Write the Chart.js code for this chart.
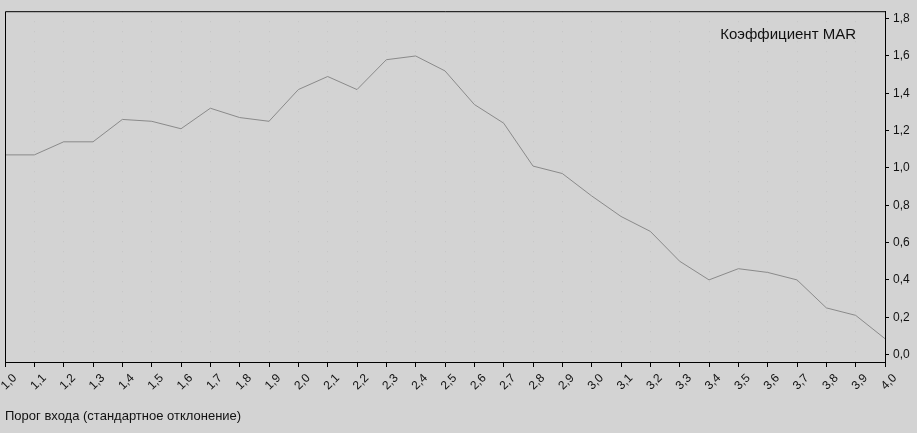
<!DOCTYPE html>
<html lang="ru">
<head>
  <meta charset="UTF-8">
  <title>Коэффициент MAR</title>
  <script src="https://cdn.jsdelivr.net/npm/chart.js"></script>
  <style>
    html, body { margin: 0; padding: 0; background: #d3d3d3; }
    #wrap { width: 917px; height: 433px; }
  </style>
</head>
<body>
  <div id="wrap">
    <canvas id="marChart" width="917" height="433"></canvas>
  </div>

  <script>
    // пороги входа (ось X)
    const thresholds = ['1,0', '1,1', '1,2', '1,3', '1,4', '1,5', '1,6', '1,7', '1,8', '1,9',
                        '2,0', '2,1', '2,2', '2,3', '2,4', '2,5', '2,6', '2,7', '2,8', '2,9',
                        '3,0', '3,1', '3,2', '3,3', '3,4', '3,5', '3,6', '3,7', '3,8', '3,9', '4,0'];
    // коэффициент MAR
    const marValues = [1.07, 1.07, 1.14, 1.14, 1.26, 1.25, 1.21, 1.32, 1.27, 1.25,
                       1.42, 1.49, 1.42, 1.58, 1.60, 1.52, 1.34, 1.24, 1.01, 0.97,
                       0.85, 0.74, 0.66, 0.50, 0.40, 0.46, 0.44, 0.40, 0.25, 0.21, 0.085];
    const yTicks = [0, 0.2, 0.4, 0.6, 0.8, 1.0, 1.2, 1.4, 1.6, 1.8];

    const font = "'Liberation Sans', Arial, sans-serif";

    // рамка сверху и слева + подпись серии в правом верхнем углу
    const framePlugin = {
      id: 'frame',
      afterDatasetsDraw(chart) {
        const { ctx, chartArea: a } = chart;
        ctx.save();
        ctx.strokeStyle = '#000';
        ctx.lineWidth = 1;
        ctx.beginPath();
        ctx.moveTo(a.left + 0.5, a.bottom);
        ctx.lineTo(a.left + 0.5, a.top + 0.5);
        ctx.lineTo(a.right, a.top + 0.5);
        ctx.stroke();

        ctx.fillStyle = '#111';
        ctx.font = "15px " + font;
        ctx.textAlign = 'right';
        ctx.textBaseline = 'middle';
        ctx.fillText(chart.data.datasets[0].label, a.right - 29, a.top + 24);
        ctx.restore();
      }
    };

    const ctx = document.getElementById('marChart').getContext('2d');
    new Chart(ctx, {
      type: 'line',
      data: {
        labels: thresholds,
        datasets: [{
          label: 'Коэффициент MAR',
          data: marValues,
          borderColor: '#8a8a8a',
          borderWidth: 1,
          pointRadius: 0,
          fill: false,
          tension: 0
        }]
      },
      options: {
        responsive: false,
        animation: false,
        layout: { padding: { left: 5, top: 9, right: 0, bottom: 0 } },
        plugins: {
          legend: { display: false },
          tooltip: { enabled: false }
        },
        scales: {
          x: {
            type: 'category',
            offset: false,
            afterFit(scale) {
              scale.paddingLeft = 0;
              scale.paddingRight = 0;
              scale.height = 71;
            },
            grid: {
              color: '#c4c4c4',
              drawOnChartArea: true,
              drawTicks: true,
              tickLength: 5,
              tickColor: '#000',
              lineWidth: 1
            },
            border: { display: true, color: '#000', dash: [1, 9] },
            ticks: {
              color: '#111',
              maxRotation: 45,
              minRotation: 45,
              autoSkip: false,
              padding: 4,
              labelOffset: 10,
              font: { family: font, size: 12 }
            },
            title: {
              display: true,
              text: 'Порог входа (стандартное отклонение)',
              align: 'start',
              color: '#111',
              font: { family: font, size: 13 },
              padding: { top: 0, bottom: 9 }
            }
          },
          y: {
            position: 'right',
            min: -0.04,
            max: 1.84,
            afterBuildTicks(scale) {
              scale.ticks = yTicks.map(v => ({ value: v }));
            },
            afterFit(scale) { scale.width = 32; },
            grid: {
              drawOnChartArea: false,
              drawTicks: true,
              tickLength: 4,
              tickColor: '#000'
            },
            border: { display: true, color: '#000' },
            ticks: {
              color: '#111',
              padding: 4,
              font: { family: font, size: 12 },
              callback: v => v.toFixed(1).replace('.', ',')
            }
          }
        }
      },
      plugins: [framePlugin]
    });
  </script>
</body>
</html>
